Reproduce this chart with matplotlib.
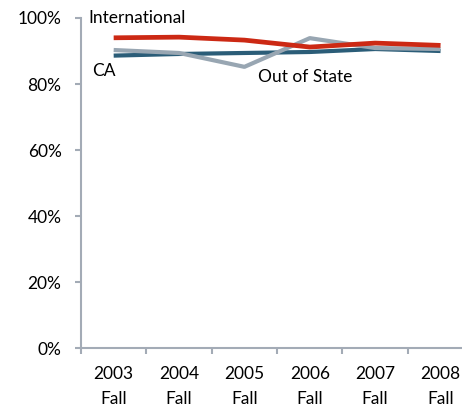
import matplotlib.pyplot as plt
import numpy as np

years = ["2003\nFall", "2004\nFall", "2005\nFall", "2006\nFall", "2007\nFall", "2008\nFall"]
ca = [88.6, 89.1, 89.4, 89.7, 90.6, 90.0]
out_of_state = [90.3, 89.4, 85.2, 93.9, 90.9, 90.6]
international = [94.0, 94.2, 93.3, 91.2, 92.4, 91.7]

plt.rcParams['font.family'] = ['Lato', 'DejaVu Sans']

fig = plt.figure(figsize=(4.62, 4.09), dpi=100)
ax = fig.add_axes([0.1753, 0.149, 0.849, 0.807])

x = np.arange(len(years))
ax.plot(x, ca, color='#2b5d78', lw=3.0, solid_capstyle='butt')
ax.plot(x, out_of_state, color='#98a6b2', lw=3.0, solid_capstyle='butt')
ax.plot(x, international, color='#cc2914', lw=3.4, solid_capstyle='butt')

ax.set_xlim(-0.5, len(years) - 0.5)
ax.set_ylim(0, 100)
ax.set_yticks(range(0, 101, 20))
ax.set_yticklabels([f"{v}%" for v in range(0, 101, 20)])
ax.set_xticks(np.arange(len(years)) - 0.5, minor=False)
ax.set_xticklabels([])
ax.set_xticks(x, minor=True)
ax.set_xticklabels(years, minor=True)
for lbl in ax.get_xticklabels(minor=True):
    lbl.set_linespacing(1.65)

axis_col = '#a3abb6'
for s in ['top', 'right']:
    ax.spines[s].set_visible(False)
for s in ['left', 'bottom']:
    ax.spines[s].set_color(axis_col)
    ax.spines[s].set_linewidth(1.5)
ax.tick_params(axis='both', which='major', direction='out', length=4, width=1.5,
               color=axis_col, labelsize=12.5, pad=10, labelcolor='black')
ax.tick_params(axis='x', which='minor', length=0, labelsize=12.5, pad=13)

ax.text(-0.39, 100, "International", fontsize=12.5, ha='left', va='center')
ax.text(-0.33, 84.0, "CA", fontsize=12.5, ha='left', va='center')
ax.text(2.21, 82.0, "Out of State", fontsize=12.5, ha='left', va='center')

fig.savefig("out.png", dpi=100)
